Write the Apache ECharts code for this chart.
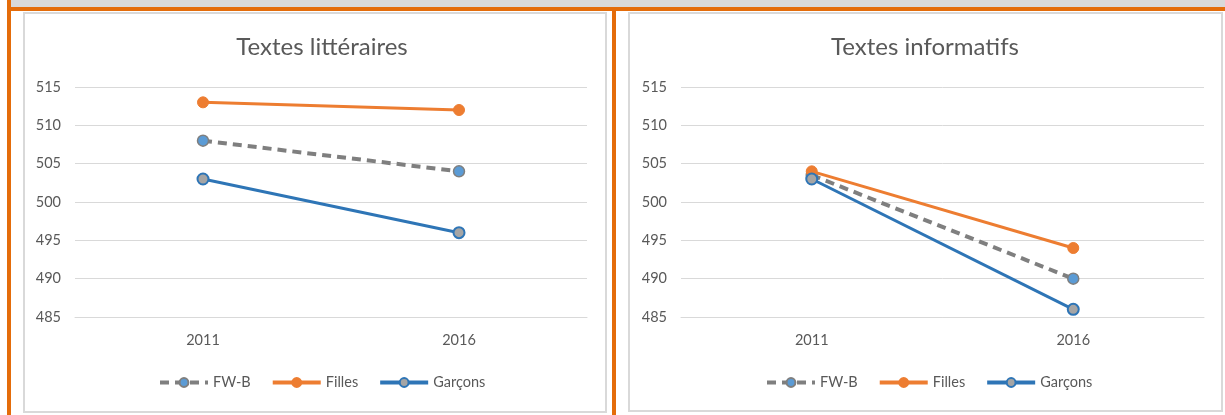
<!DOCTYPE html>
<html>
<head>
<meta charset="utf-8">
<script src="https://cdn.jsdelivr.net/npm/echarts@6/dist/echarts.min.js"></script>
<style>
html,body{margin:0;padding:0;background:#fff;}
#c{width:1225px;height:415px;}
</style>
</head>
<body>
<div id="c"></div>
<script>
const categories = ['2011', '2016'];
const seriesNames = ['FW-B', 'Filles', 'Garçons'];
const titles = ['Textes littéraires', 'Textes informatifs'];
const litFWB = [508, 504];
const litFilles = [513, 512];
const litGarcons = [503, 496];
const infFWB = [503.5, 490];
const infFilles = [504, 494];
const infGarcons = [503, 486];
const yTicks = [485, 490, 495, 500, 505, 510, 515];

const FONT = 'Lato, "Open Sans", sans-serif';
const TXT = '#595959';
const ORANGE_FRAME = '#E46C0A';

const panels = [
  {grid: {left: 75, top: 87, width: 512, height: 230}, legendLeft: 158, cx: 317, data: [litFWB, litFilles, litGarcons]},
  {grid: {left: 681, top: 87, width: 523, height: 230}, legendLeft: 765, cx: 920, data: [infFWB, infFilles, infGarcons]}
];

function makeSeries(name, data, idx) {
  const base = {name: name, type: 'line', data: data, xAxisIndex: idx, yAxisIndex: idx,
    symbol: 'circle', symbolSize: 11, animation: false, emphasis: {disabled: true}};
  if (name === 'FW-B') {
    base.lineStyle = {color: '#7f7f7f', width: 4, type: [9, 6]};
    base.itemStyle = {color: '#5b9bd5', borderColor: '#7f7f7f', borderWidth: 1.5};
    base.z = 2;
  } else if (name === 'Filles') {
    base.lineStyle = {color: '#ed7d31', width: 3};
    base.itemStyle = {color: '#ed7d31', borderColor: '#ed7d31', borderWidth: 1};
    base.z = 3;
  } else {
    base.lineStyle = {color: '#2e75b6', width: 3};
    base.itemStyle = {color: '#a5a5a5', borderColor: '#2e75b6', borderWidth: 2};
    base.z = 4;
  }
  return base;
}

const option = {
  backgroundColor: '#ffffff',
  animation: false,
  textStyle: {fontFamily: FONT},
  title: panels.map((p, i) => ({
    text: titles[i], left: p.cx, top: 30, textAlign: 'center',
    textStyle: {fontFamily: FONT, fontSize: 24, fontWeight: 'normal', color: TXT}
  })),
  legend: panels.map((p, i) => ({
    data: seriesNames.map(n => ({name: n})),
    left: p.legendLeft, top: 375,
    padding: 0,
    orient: 'horizontal',
    itemWidth: 48, itemHeight: 11, itemGap: 20,
    selectedMode: false,
    lineStyle: {width: 4},
    textStyle: {fontFamily: FONT, fontSize: 14.5, color: TXT, padding: [0, 0, 0, 0]}
  })),
  grid: panels.map(p => Object.assign({containLabel: false}, p.grid)),
  xAxis: panels.map((p, i) => ({
    type: 'category', gridIndex: i, data: categories, boundaryGap: true,
    axisLine: {show: true, lineStyle: {color: '#d9d9d9'}},
    axisTick: {show: false},
    axisLabel: {color: TXT, fontFamily: FONT, fontSize: 14.5, margin: 16}
  })),
  yAxis: panels.map((p, i) => ({
    type: 'value', gridIndex: i, min: yTicks[0], max: yTicks[yTicks.length - 1], interval: 5,
    axisLine: {show: false}, axisTick: {show: false},
    splitLine: {lineStyle: {color: '#d9d9d9', width: 1}},
    axisLabel: {color: TXT, fontFamily: FONT, fontSize: 14.5, margin: 14}
  })),
  series: [],
  graphic: [
    {type: 'rect', shape: {x: 11, y: 0, width: 1214, height: 7}, style: {fill: '#d9d9d9'}, silent: true},
    {type: 'rect', shape: {x: 7, y: 7, width: 1218, height: 4}, style: {fill: ORANGE_FRAME}, silent: true},
    {type: 'rect', shape: {x: 7, y: 0, width: 4, height: 415}, style: {fill: ORANGE_FRAME}, silent: true},
    {type: 'rect', shape: {x: 612, y: 7, width: 4, height: 408}, style: {fill: ORANGE_FRAME}, silent: true},
    {type: 'rect', shape: {x: 24, y: 13, width: 582, height: 399}, style: {fill: 'none', stroke: '#d9d9d9', lineWidth: 2}, silent: true},
    {type: 'rect', shape: {x: 629, y: 13, width: 593, height: 398}, style: {fill: 'none', stroke: '#d9d9d9', lineWidth: 2}, silent: true}
  ]
};

panels.forEach((p, i) => {
  seriesNames.forEach((n, k) => option.series.push(makeSeries(n, p.data[k], i)));
});

const chart = echarts.init(document.getElementById('c'), null, {renderer: 'canvas'});
chart.setOption(option);
</script>
</body>
</html>
